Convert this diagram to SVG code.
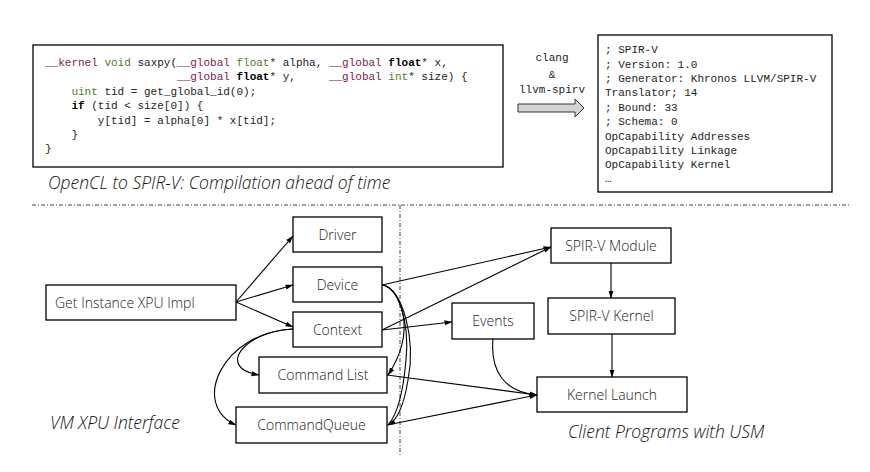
<svg xmlns="http://www.w3.org/2000/svg" width="870" height="472" viewBox="0 0 870 472">
<defs>
<marker id="ah" markerWidth="8" markerHeight="6" refX="7.5" refY="3" orient="auto" markerUnits="userSpaceOnUse">
<path d="M0,0.5 L8,3 L0,5.5 Z" fill="#000"/>
</marker>
</defs>
<style>
.box{fill:#fff;stroke:#000;stroke-width:1.3}
.code{font-family:"Liberation Mono",monospace;font-size:11px;fill:#222}
.kw{fill:#7b1c4a}
.ty{fill:#4a7d1e}
.b{font-weight:bold;fill:#000}
.lbl{font-family:"Open Sans","Noto Sans",sans-serif;font-weight:300;font-size:14px;fill:#222;text-anchor:middle}
.cap{font-family:"Open Sans","Noto Sans",sans-serif;font-style:italic;font-weight:300;font-size:17.5px;fill:#111}
.ln{fill:none;stroke:#000;stroke-width:1.1}
.dd{fill:none;stroke:#444;stroke-width:1;stroke-dasharray:4,2,1,2}
</style>
<rect width="870" height="472" fill="#fff"/>

<g id="code-box">
<rect class="box" x="33" y="45" width="470" height="122"/>
<text class="code" xml:space="preserve" x="45" y="66"><tspan class="kw">__kernel</tspan> <tspan class="ty">void</tspan> saxpy(<tspan class="kw">__global</tspan> <tspan class="ty">float</tspan>* alpha, <tspan class="kw">__global</tspan> <tspan class="b">float</tspan>* x,</text>
<text class="code" xml:space="preserve" x="45" y="80">                    <tspan class="kw">__global</tspan> <tspan class="b">float</tspan>* y,     <tspan class="kw">__global</tspan> <tspan class="ty">int</tspan>* size) {</text>
<text class="code" xml:space="preserve" x="45" y="95">    <tspan class="ty">uint</tspan> tid = get_global_id(0);</text>
<text class="code" xml:space="preserve" x="45" y="109">    <tspan class="b">if</tspan> (tid &lt; size[0]) {</text>
<text class="code" xml:space="preserve" x="45" y="124">        y[tid] = alpha[0] * x[tid];</text>
<text class="code" xml:space="preserve" x="45" y="138">    }</text>
<text class="code" xml:space="preserve" x="45" y="152">}</text>
</g>
<text class="cap" x="48" y="189">OpenCL to SPIR-V: Compilation ahead of time</text>

<g id="compile-arrow">
<text class="code" x="552" y="61" text-anchor="middle">clang</text>
<text class="code" x="552" y="78" text-anchor="middle">&amp;</text>
<text class="code" x="552" y="93" text-anchor="middle">llvm-spirv</text>
<path d="M518,104 L575,104 L575,99 L584,108 L575,117 L575,112 L518,112 Z" fill="#d4d4d4" stroke="#333" stroke-width="1"/>
</g>

<g id="spirv-box">
<rect class="box" x="598" y="35" width="234" height="157"/>
<text class="code" x="605" y="53">; SPIR-V</text>
<text class="code" x="605" y="67.5">; Version: 1.0</text>
<text class="code" x="605" y="82">; Generator: Khronos LLVM/SPIR-V</text>
<text class="code" x="605" y="96">Translator; 14</text>
<text class="code" x="605" y="110.5">; Bound: 33</text>
<text class="code" x="605" y="125">; Schema: 0</text>
<text class="code" x="605" y="139.5">OpCapability Addresses</text>
<text class="code" x="605" y="154">OpCapability Linkage</text>
<text class="code" x="605" y="168">OpCapability Kernel</text>
<text class="code" x="605" y="182" font-size="9">…</text>
</g>

<g id="separators">
<line class="dd" x1="32" y1="205" x2="850" y2="205"/>
<line class="dd" x1="400" y1="205" x2="400" y2="457"/>
</g>

<g id="connectors">
<line class="ln" x1="236" y1="302" x2="293" y2="236" marker-end="url(#ah)"/>
<line class="ln" x1="236" y1="302" x2="293" y2="285" marker-end="url(#ah)"/>
<line class="ln" x1="236" y1="302" x2="293" y2="327" marker-end="url(#ah)"/>
<path class="ln" d="M293,329 C245,331 215,368 259,375" marker-end="url(#ah)"/>
<path class="ln" d="M293,329 C222,332 190,405 236,425" marker-end="url(#ah)"/>
<path class="ln" d="M382,285 C400,287 418,330 388,375" marker-end="url(#ah)"/>
<path class="ln" d="M382,285 C403,288 416,340 408,380 C404,405 398,420 388,425" marker-end="url(#ah)"/>
<path class="ln" d="M382,285 C397,286 410,320 406,360 C403,395 397,415 388,425"/>
<line class="ln" x1="382" y1="285" x2="551" y2="247" marker-end="url(#ah)"/>
<line class="ln" x1="382" y1="330" x2="551" y2="247" marker-end="url(#ah)"/>
<line class="ln" x1="382" y1="330" x2="452" y2="322" marker-end="url(#ah)"/>
<line class="ln" x1="611" y1="263" x2="611" y2="298" marker-end="url(#ah)"/>
<line class="ln" x1="612" y1="334" x2="612" y2="377" marker-end="url(#ah)"/>
<path class="ln" d="M493,339 C490,372 505,392 537,395" marker-end="url(#ah)"/>
<line class="ln" x1="387" y1="375" x2="537" y2="395" marker-end="url(#ah)"/>
<line class="ln" x1="387" y1="425" x2="537" y2="395" marker-end="url(#ah)"/>
</g>

<g id="get-instance">
<rect class="box" x="46" y="285" width="190" height="35"/>
<text class="lbl" x="55" y="307.5" style="text-anchor:start">Get Instance XPU Impl</text>
</g>
<g id="driver">
<rect class="box" x="293" y="217" width="89" height="35"/>
<text class="lbl" x="337.5" y="239.5">Driver</text>
</g>
<g id="device">
<rect class="box" x="293" y="267" width="89" height="35"/>
<text class="lbl" x="337.5" y="289.5">Device</text>
</g>
<g id="context">
<rect class="box" x="293" y="312" width="89" height="35"/>
<text class="lbl" x="337.5" y="334.5">Context</text>
</g>
<g id="command-list">
<rect class="box" x="259" y="357" width="128" height="36"/>
<text class="lbl" x="323" y="380">Command List</text>
</g>
<g id="command-queue">
<rect class="box" x="236" y="407" width="151" height="36"/>
<text class="lbl" x="311.5" y="430">CommandQueue</text>
</g>
<g id="spirv-module">
<rect class="box" x="551" y="228" width="120" height="35"/>
<text class="lbl" x="611" y="250.5">SPIR-V Module</text>
</g>
<g id="spirv-kernel">
<rect class="box" x="548" y="298" width="127" height="36"/>
<text class="lbl" x="611.5" y="321">SPIR-V Kernel</text>
</g>
<g id="events">
<rect class="box" x="452" y="303" width="82" height="36"/>
<text class="lbl" x="493" y="326">Events</text>
</g>
<g id="kernel-launch">
<rect class="box" x="537" y="377" width="150" height="35"/>
<text class="lbl" x="612" y="399.5">Kernel Launch</text>
</g>
<text class="cap" x="50" y="429">VM XPU Interface</text>
<text class="cap" x="568" y="438">Client Programs with USM</text>
</svg>
